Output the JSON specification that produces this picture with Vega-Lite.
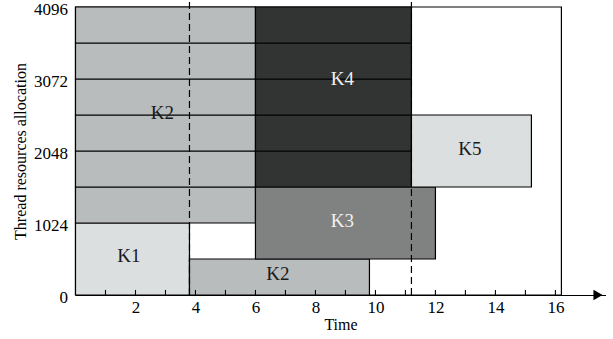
{
  "$schema": "https://vega.github.io/schema/vega-lite/v6.json",
  "autosize": "none",
  "width": 530,
  "height": 288,
  "padding": {"left": 75.5, "top": 7, "right": 7.5, "bottom": 44},
  "config": {"view": {"stroke": null}, "font": "Liberation Serif"},
  "datasets": {
    "blocks": [
      {"group": "K1", "x0": 0, "x1": 3.8, "y0": 0, "y1": 1024},
      {"group": "K2", "x0": 3.8, "x1": 9.8, "y0": 0, "y1": 512},
      {"group": "K2", "x0": 0, "x1": 6, "y0": 1024, "y1": 1536},
      {"group": "K2", "x0": 0, "x1": 6, "y0": 1536, "y1": 2048},
      {"group": "K2", "x0": 0, "x1": 6, "y0": 2048, "y1": 2560},
      {"group": "K2", "x0": 0, "x1": 6, "y0": 2560, "y1": 3072},
      {"group": "K2", "x0": 0, "x1": 6, "y0": 3072, "y1": 3584},
      {"group": "K2", "x0": 0, "x1": 6, "y0": 3584, "y1": 4096},
      {"group": "K3", "x0": 6, "x1": 12, "y0": 512, "y1": 1536},
      {"group": "K4", "x0": 6, "x1": 11.2, "y0": 1536, "y1": 2048},
      {"group": "K4", "x0": 6, "x1": 11.2, "y0": 2048, "y1": 2560},
      {"group": "K4", "x0": 6, "x1": 11.2, "y0": 2560, "y1": 3072},
      {"group": "K4", "x0": 6, "x1": 11.2, "y0": 3072, "y1": 3584},
      {"group": "K4", "x0": 6, "x1": 11.2, "y0": 3584, "y1": 4096},
      {"group": "K5", "x0": 11.2, "x1": 15.2, "y0": 1536, "y1": 2560}
    ],
    "labels": [
      {"label": "K1", "x": 1.78, "y": 560, "tone": "dark"},
      {"label": "K2", "x": 2.9, "y": 2595, "tone": "dark"},
      {"label": "K2", "x": 6.75, "y": 300, "tone": "dark"},
      {"label": "K3", "x": 8.9, "y": 1052, "tone": "light"},
      {"label": "K4", "x": 8.9, "y": 3065, "tone": "light"},
      {"label": "K5", "x": 13.15, "y": 2076, "tone": "dark"}
    ],
    "frame": [{"x0": 0, "x1": 16.2, "y0": 0, "y1": 4096}],
    "dashes": [{"x": 3.8, "y0": 0, "y1": 4196}, {"x": 11.2, "y0": 0, "y1": 4196}],
    "ticks": [
      {"x": 1, "y0": 0, "y1": 72}, {"x": 2, "y0": 0, "y1": 72}, {"x": 3, "y0": 0, "y1": 72},
      {"x": 4, "y0": 0, "y1": 72}, {"x": 5, "y0": 0, "y1": 72}, {"x": 6, "y0": 0, "y1": 72},
      {"x": 7, "y0": 0, "y1": 72}, {"x": 8, "y0": 0, "y1": 72}, {"x": 9, "y0": 0, "y1": 72},
      {"x": 10, "y0": 0, "y1": 72}, {"x": 11, "y0": 0, "y1": 72}, {"x": 12, "y0": 0, "y1": 72},
      {"x": 13, "y0": 0, "y1": 72}, {"x": 14, "y0": 0, "y1": 72}, {"x": 15, "y0": 0, "y1": 72},
      {"x": 16, "y0": 0, "y1": 72}
    ],
    "arrow": [{"x": 17.42, "y": 0}]
  },
  "layer": [
    {
      "data": {"name": "frame"},
      "mark": {"type": "rect", "fill": null, "stroke": "black", "strokeWidth": 1.2},
      "encoding": {
        "x": {"field": "x0", "type": "quantitative", "scale": {"domain": [0, 17.67], "nice": false},
          "axis": {"title": "Time", "values": [2, 4, 6, 8, 10, 12, 14, 16], "labelOverlap": false, "grid": false,
            "zindex": 1, "domainColor": "black", "domainWidth": 1.2, "ticks": false,
            "labelPadding": 4, "labelFontSize": 17, "labelColor": "black", "titleFontSize": 16,
            "titleFontWeight": "normal", "titleColor": "black", "titlePadding": 1}},
        "x2": {"field": "x1"},
        "y": {"field": "y0", "type": "quantitative", "scale": {"domain": [0, 4096], "nice": false},
          "axis": {"title": "Thread resources allocation", "values": [0, 1024, 2048, 3072, 4096],
            "format": "d", "grid": false, "domain": false, "ticks": false, "labelPadding": 8, "labelFontSize": 17,
            "labelOffset": 2, "labelFlush": false,
            "labelColor": "black", "titleFontSize": 16, "titleFontWeight": "normal",
            "titleColor": "black", "titlePadding": 5}},
        "y2": {"field": "y1"}
      }
    },
    {
      "data": {"name": "blocks"},
      "mark": {"type": "rect", "stroke": "black", "strokeWidth": 1.2},
      "encoding": {
        "x": {"field": "x0", "type": "quantitative"},
        "x2": {"field": "x1"},
        "y": {"field": "y0", "type": "quantitative"},
        "y2": {"field": "y1"},
        "fill": {"field": "group", "type": "nominal", "legend": null,
          "scale": {"domain": ["K1", "K2", "K3", "K4", "K5"],
            "range": ["#dcdfe0", "#b9bcbc", "#808281", "#323434", "#dcdfe0"]}}
      }
    },
    {
      "data": {"name": "ticks"},
      "mark": {"type": "rule", "color": "black", "strokeWidth": 1.1},
      "encoding": {
        "x": {"field": "x", "type": "quantitative"},
        "y": {"field": "y0", "type": "quantitative"},
        "y2": {"field": "y1"}
      }
    },
    {
      "data": {"name": "dashes"},
      "mark": {"type": "rule", "strokeDash": [7, 4], "color": "black", "strokeWidth": 1.2, "clip": false},
      "encoding": {
        "x": {"field": "x", "type": "quantitative"},
        "y": {"field": "y0", "type": "quantitative"},
        "y2": {"field": "y1"}
      }
    },
    {
      "data": {"name": "arrow"},
      "mark": {"type": "point", "shape": "triangle-right", "filled": true, "color": "black", "size": 110, "opacity": 1, "clip": false},
      "encoding": {
        "x": {"field": "x", "type": "quantitative"},
        "y": {"field": "y", "type": "quantitative"}
      }
    },
    {
      "data": {"name": "labels"},
      "mark": {"type": "text", "fontSize": 19, "font": "Liberation Serif"},
      "encoding": {
        "x": {"field": "x", "type": "quantitative"},
        "y": {"field": "y", "type": "quantitative"},
        "text": {"field": "label"},
        "color": {"field": "tone", "type": "nominal", "legend": null,
          "scale": {"domain": ["dark", "light"], "range": ["#1a1a1a", "#f0f0f0"]}}
      }
    }
  ],
  "resolve": {"scale": {"color": "independent"}}
}
